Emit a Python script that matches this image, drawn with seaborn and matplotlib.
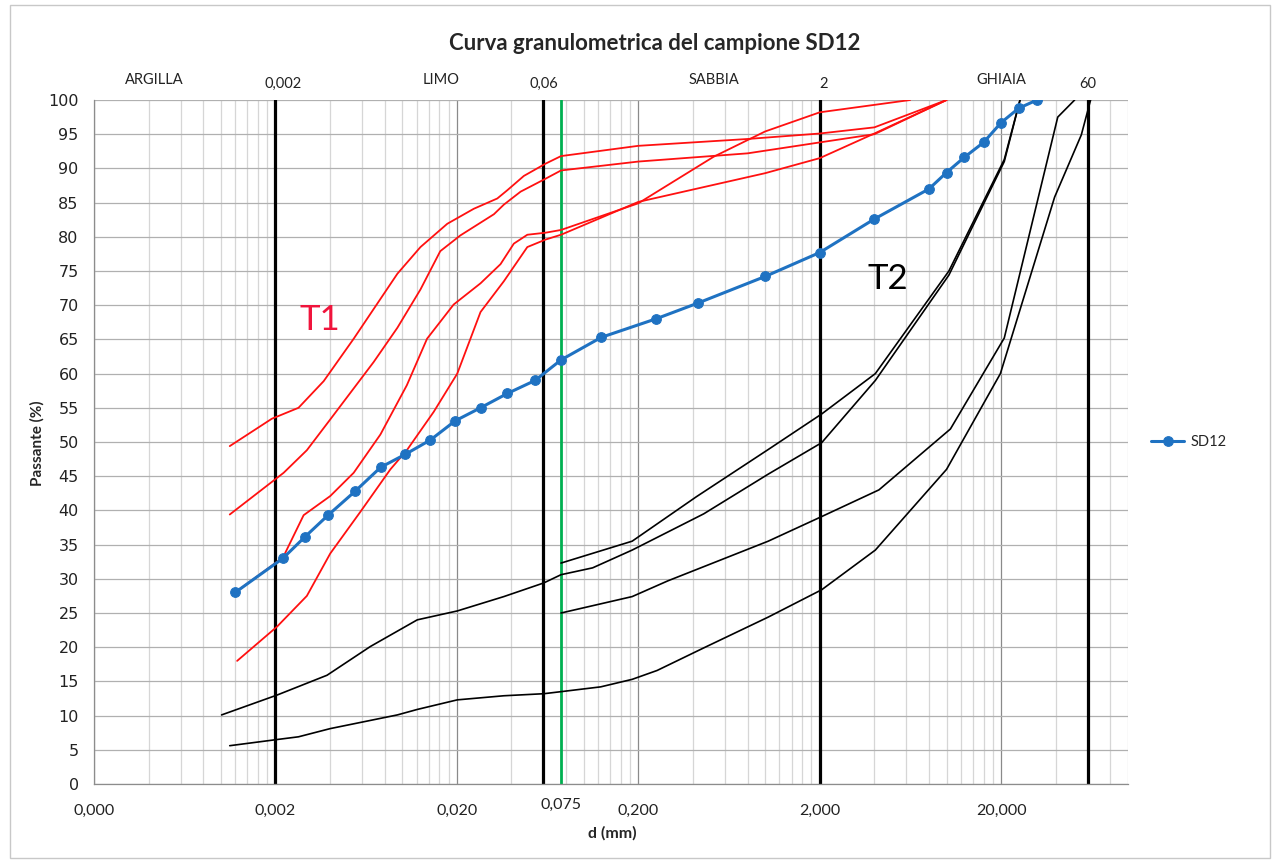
import matplotlib
matplotlib.use("Agg")
import matplotlib.pyplot as plt
import seaborn as sns
from matplotlib.patches import Rectangle

# --- SD12 sample (sieve size mm, % passing)
sd12_d = [0.0012, 0.0022, 0.0029, 0.0039, 0.0055, 0.0076, 0.0104, 0.0143, 0.0196, 0.027,
          0.038, 0.054, 0.075, 0.125, 0.25, 0.425, 1.0, 2.0, 4.0, 8.0, 10.0, 12.5, 16.0,
          20.0, 25.0, 31.5]
sd12_p = [28.0, 33.0, 36.1, 39.3, 42.8, 46.3, 48.2, 50.3, 53.1, 55.0, 57.1, 59.0, 62.0,
          65.3, 68.0, 70.3, 74.2, 77.7, 82.6, 87.0, 89.4, 91.6, 93.8, 96.7, 98.8, 100.0]

# --- T1 envelope curves (red)
t1a_d = [0.00112, 0.00191, 0.00268, 0.00369, 0.0054, 0.0094, 0.0126, 0.0177, 0.0248, 0.0334,
         0.0379, 0.0468, 0.0617, 0.075, 0.2, 0.8, 2.0, 4.0, 10.0]
t1a_p = [49.4, 53.4, 55.0, 58.9, 65.1, 74.6, 78.5, 81.9, 84.1, 85.6, 86.8, 88.9, 90.7, 91.8,
         93.3, 94.3, 95.1, 96.0, 100.0]
t1b_d = [0.00112, 0.00222, 0.00298, 0.00401, 0.00696, 0.0094, 0.0126, 0.0162, 0.0209, 0.032,
         0.0363, 0.0449, 0.0617, 0.075, 0.2, 0.8, 2.0, 4.0, 10.0]
t1b_p = [39.4, 45.5, 48.8, 53.3, 61.7, 66.7, 72.3, 77.9, 80.2, 83.3, 84.7, 86.6, 88.5, 89.7,
         91.0, 92.2, 93.8, 95.0, 100.0]
t1c_d = [0.0012, 0.0022, 0.00286, 0.00401, 0.0054, 0.00758, 0.0106, 0.0137, 0.0192, 0.027,
         0.0348, 0.0412, 0.0489, 0.0617, 0.075, 0.2, 0.52, 1.0, 2.0, 6.3]
t1c_p = [28.0, 33.1, 39.3, 42.1, 45.5, 51.1, 58.3, 65.1, 70.1, 73.2, 76.0, 79.0, 80.3, 80.6,
         81.0, 84.9, 91.7, 95.4, 98.2, 100.0]
t1d_d = [0.00123, 0.00204, 0.00298, 0.00401, 0.00588, 0.0086, 0.0106, 0.0149, 0.0201, 0.027,
         0.0363, 0.0489, 0.0617, 0.075, 0.2, 1.0, 2.0, 4.0, 10.0]
t1d_p = [18.0, 23.0, 27.5, 33.7, 39.8, 46.0, 48.8, 54.4, 60.0, 69.0, 73.5, 78.5, 79.6, 80.3,
         85.1, 89.3, 91.5, 95.1, 100.0]

# --- T2 envelope curves (black)
t2a_d = [0.00101, 0.00204, 0.00385, 0.00667, 0.0121, 0.0201, 0.0363, 0.0603, 0.075, 0.112,
         0.185, 0.459, 1.04, 2.05, 4.05, 10.3, 20.8, 25.4]
t2a_p = [10.1, 13.0, 15.9, 20.1, 24.0, 25.3, 27.4, 29.4, 30.6, 31.6, 34.2, 39.5, 45.3, 49.9,
         59.0, 74.4, 91.0, 100.0]
t2b_d = [0.075, 0.185, 0.418, 1.04, 2.05, 4.05, 10.3, 20.8, 25.4]
t2b_p = [32.3, 35.5, 42.0, 48.9, 54.1, 60.0, 75.0, 91.3, 100.0]
t2c_d = [0.00112, 0.00204, 0.00268, 0.00401, 0.0094, 0.0121, 0.0201, 0.0363, 0.0603, 0.075,
         0.124, 0.185, 0.254, 0.459, 1.04, 2.05, 4.05, 10.0, 19.8, 39.4, 55.3, 62.2]
t2c_p = [5.6, 6.5, 6.9, 8.1, 10.1, 10.9, 12.3, 12.9, 13.2, 13.5, 14.2, 15.3, 16.6, 19.9, 24.4,
         28.4, 34.2, 46.0, 60.0, 85.8, 94.9, 100.0]
t2d_d = [0.075, 0.185, 0.291, 1.04, 2.05, 4.24, 10.5, 20.8, 41.0, 50.8]
t2d_p = [25.0, 27.4, 29.7, 35.5, 39.1, 43.0, 51.9, 65.2, 97.5, 100.0]

# class limits and labels
limits_d = [0.002, 0.06, 2, 60]
sieve_075 = 0.075
top_labels = ["ARGILLA", "0,002", "LIMO", "0,06", "SABBIA", "2", "GHIAIA", "60"]
top_label_d = [0.000429, 0.00221, 0.01644, 0.06, 0.52, 2.1, 20.0, 60.0]
major_d = [0.0002, 0.002, 0.02, 0.2, 2, 20]
major_labels = ["0,000", "0,002", "0,020", "0,200", "2,000", "20,000"]

sns.set_style("white")
plt.rcParams["font.family"] = ["Lato", "DejaVu Sans"]

fig = plt.figure(figsize=(12.75, 8.63), dpi=100)
ax = fig.add_axes([94 / 1275, 79 / 863, 1034 / 1275, 684 / 863])
ax.set_xscale("log")

for d, p in [(t1a_d, t1a_p), (t1b_d, t1b_p), (t1c_d, t1c_p), (t1d_d, t1d_p)]:
    sns.lineplot(x=d, y=p, color="#ff1010", lw=1.3, sort=False, ax=ax, zorder=3)
for d, p in [(t2a_d, t2a_p), (t2b_d, t2b_p), (t2c_d, t2c_p), (t2d_d, t2d_p)]:
    sns.lineplot(x=d, y=p, color="black", lw=1.2, sort=False, ax=ax, zorder=3)

for d in limits_d:
    ax.axvline(d, color="black", lw=2.3, zorder=2)
ax.axvline(sieve_075, color="#00b050", lw=2, zorder=2)

blue = "#1f72c2"
sns.lineplot(x=sd12_d, y=sd12_p, color=blue, lw=2.2, marker="o", markersize=7,
             markeredgecolor=blue, label="SD12", sort=False, ax=ax, zorder=5)

ax.set_xlim(0.0002, 100)
ax.set_ylim(0, 100)
minor_d = [m * k for m in major_d for k in range(2, 10) if m * k <= 100.001]
ax.set_xticks(major_d)
ax.set_xticklabels(major_labels)
ax.set_xticks(minor_d, minor=True)
ax.set_xticklabels([], minor=True)
ax.set_yticks(range(0, 101, 5))
ax.tick_params(axis="x", which="both", length=0, pad=14, labelsize=11.5, colors="#222222")
ax.tick_params(axis="y", length=4, width=0.8, direction="out", color="#8c8c8c", pad=7,
               labelsize=11.5, labelcolor="#222222")
for lab in ax.get_yticklabels():
    lab.set_family("DejaVu Sans")

ax.grid(which="major", axis="x", color="#8a8a8a", lw=0.9)
ax.grid(which="minor", axis="x", color="#d6d6d6", lw=0.9)
ax.grid(which="major", axis="y", color="#b0b0b0", lw=0.9)
for s in ["top", "right"]:
    ax.spines[s].set_visible(False)
for s in ["left", "bottom"]:
    ax.spines[s].set_color("#8c8c8c")
    ax.spines[s].set_linewidth(0.9)

trans = ax.get_xaxis_transform()
for lab, d in zip(top_labels, top_label_d):
    y = 1.024 if lab[0].isdigit() else 1.029
    ax.text(d, y, lab, transform=trans, ha="center", va="center", fontsize=10.5, color="#222222")
ax.text(sieve_075, -0.03, "0,075", transform=trans, ha="center", va="center",
        fontsize=11.5, color="#222222")

ax.text(0.00353, 67.8, "T1", color="#f0143c", fontsize=25, ha="center", va="center")
ax.text(4.76, 73.8, "T2", color="black", fontsize=25, ha="center", va="center")

ax.set_xlabel("")
ax.set_ylabel("")
fig.text(612 / 1275, 1 - 833 / 863, "d (mm)", ha="center", va="center",
         fontsize=11.5, fontweight="bold")
fig.text(37 / 1275, 1 - 443 / 863, "Passante (%)", ha="center", va="center",
         rotation=90, fontsize=11, fontweight="bold")
fig.text(655 / 1275, 1 - 43 / 863, "Curva granulometrica del campione SD12",
         ha="center", va="center", fontsize=16, fontweight="bold")

ax.legend(loc="center left", bbox_to_anchor=(1.01, 0.5), frameon=False, fontsize=10.5,
          handlelength=2.2, handletextpad=0.5)

fig.patches.append(Rectangle((10 / 1275, 5 / 863), 1260 / 1275, 853 / 863,
                             transform=fig.transFigure, fill=False, edgecolor="#c8c8c8", lw=1))

fig.savefig("out.png", dpi=100)
